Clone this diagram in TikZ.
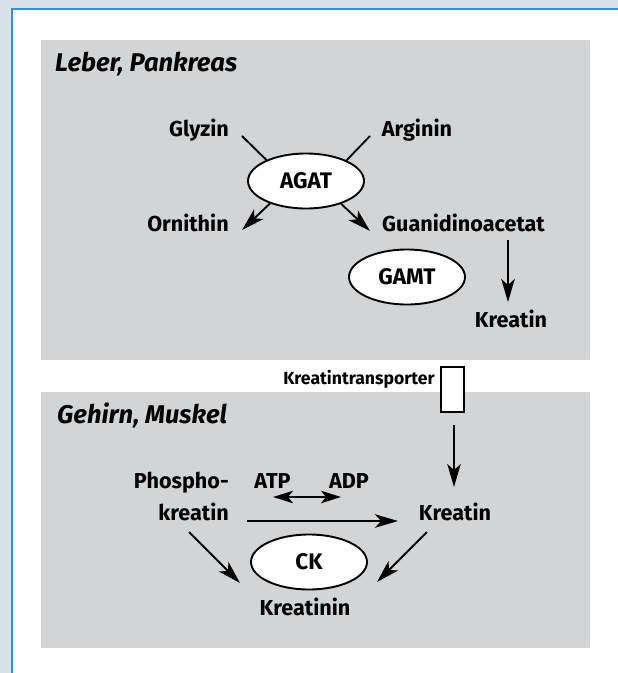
\documentclass[tikz,border=0pt]{standalone}
\usepackage{fontspec}
\setmainfont{Fira Sans}
\usetikzlibrary{arrows.meta,shapes.geometric}
\definecolor{outerbg}{RGB}{216,224,232}
\definecolor{frameblue}{RGB}{41,150,214}
\definecolor{panelgray}{RGB}{211,212,214}
\begin{document}
\begin{tikzpicture}[x=1pt,y=-1pt,
  txt/.style={font=\fontsize{21.6}{25}\selectfont\bfseries, inner sep=0pt, anchor=base},
  smalltxt/.style={font=\fontsize{17.6}{20}\selectfont\bfseries, inner sep=0pt, anchor=base},
  titletxt/.style={font=\fontsize{25.6}{30}\selectfont\bfseries\itshape, inner sep=0pt, anchor=base west},
  ell/.style={ellipse, draw, fill=white, line width=1.9pt, minimum width=116pt, minimum height=55pt, inner sep=0pt, font=\fontsize{22.5}{25}\selectfont\bfseries},
  ln/.style={line width=1.9pt},
  arr/.style={line width=1.9pt, -{Stealth[length=23pt,width=13.5pt,inset=6pt]}},
  dbl/.style={line width=1.9pt, {Stealth[length=20pt,width=12.5pt,inset=5pt]}-{Stealth[length=20pt,width=12.5pt,inset=5pt]}}
]
\useasboundingbox (0,0) rectangle (618,673);
\fill[outerbg] (0,0) rectangle (618,673);
\fill[white] (11.8,8.8) rectangle (618,673);
\draw[frameblue, line width=1.5pt] (11.8,673) -- (11.8,8.8) -- (618,8.8);
\fill[panelgray] (41,40) rectangle (590,360);
\fill[panelgray] (41,392) rectangle (590,648);

% upper panel
\node[titletxt] (t1) at (55,71) {Leber, Pankreas};
\node[txt] (glyzin) at (199,136) {Glyzin};
\node[txt] (arginin) at (417,136) {Arginin};
\node[ell] (agat) at (306,181) {AGAT};
\node[txt] (ornithin) at (188,231) {Ornithin};
\node[txt] (guan) at (463.5,231) {Guanidinoacetat};
\node[ell] (gamt) at (407,277) {GAMT};
\node[txt] (kreatinA) at (511,327) {Kreatin};

\coordinate (g1) at (242,136);
\coordinate (a1) at (370,136);
\coordinate (o1) at (242,230);
\coordinate (gu1) at (370,231);
\coordinate (k1) at (508,240);
\coordinate (k2) at (508,302);
\draw[ln] (g1) -- (agat.152.85);
\draw[ln] (a1) -- (agat.27.1);
\draw[arr] (agat.212.6) -- (o1);
\draw[arr] (agat.327.4) -- (gu1);
\draw[arr] (k1) -- (k2);

% transporter
\node[smalltxt] (transp) at (359,384) {Kreatintransporter};
\node[draw, fill=white, line width=1.9pt, minimum width=23pt, minimum height=45pt, inner sep=0pt] (box) at (452.5,389.5) {};

% lower panel
\node[titletxt] (t2) at (57,423) {Gehirn, Muskel};
\node[txt, anchor=base east] (phos1) at (229,488) {Phospho-};
\node[txt, anchor=base east] (phos2) at (229,520) {kreatin};
\node[txt] (atp) at (272.5,488) {ATP};
\node[txt] (adp) at (349,488) {ADP};
\node[txt] (kreatinB) at (455,520) {Kreatin};
\node[ell] (ck) at (309,562) {CK};
\node[txt] (kreatinin) at (305,615) {Kreatinin};

\coordinate (tr1) at (454,425);
\coordinate (tr2) at (454,487);
\coordinate (d1) at (273,497);
\coordinate (d2) at (341,497);
\coordinate (h1) at (247,521);
\coordinate (h2) at (398,521);
\coordinate (l1) at (189,532);
\coordinate (l2) at (240,583);
\coordinate (r1) at (427,532);
\coordinate (r2) at (377,582);
\draw[arr] (tr1) -- (tr2);
\draw[dbl] (d1) -- (d2);
\draw[arr] (h1) -- (h2);
\draw[arr] (l1) -- (l2);
\draw[arr] (r1) -- (r2);
\end{tikzpicture}
\end{document}
